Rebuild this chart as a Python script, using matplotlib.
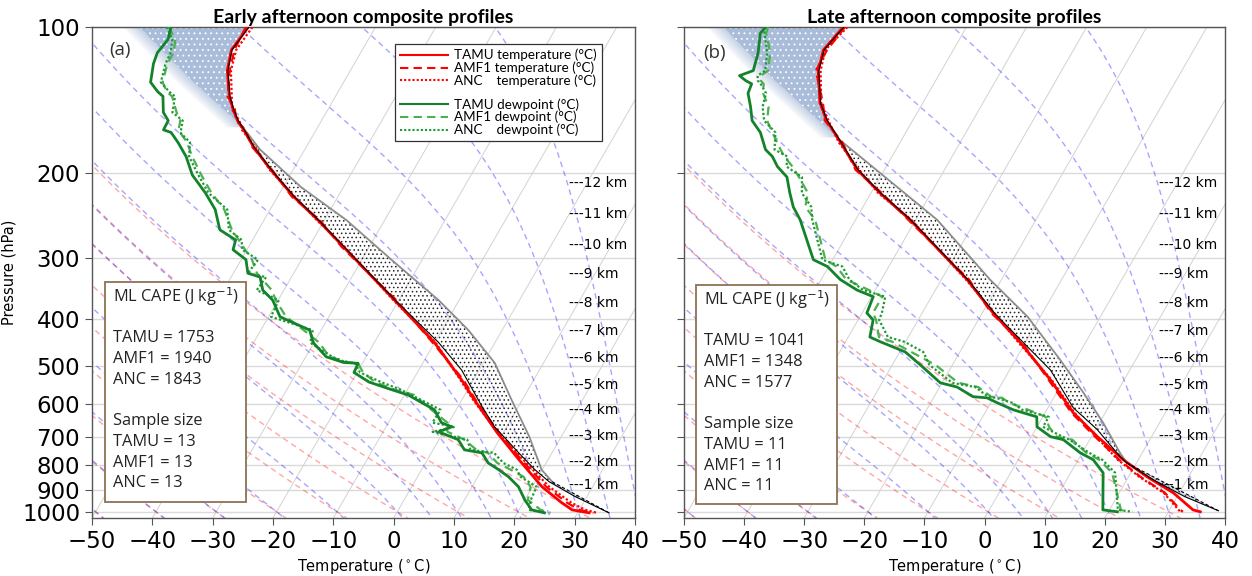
import numpy as np
import matplotlib.pyplot as plt
import matplotlib.transforms as mtransforms
from matplotlib.lines import Line2D
from matplotlib.patches import Rectangle
from matplotlib.ticker import FixedLocator, NullLocator, FormatStrFormatter

plt.rcParams['hatch.linewidth'] = 0.6

P_BOT = 1030.0
P_TOP = 100.0
SKEW = 46.4   # degC of x shift per decade of pressure

# ---------------- (a) early afternoon composites ----------------
early_p_temp = [100, 111.5, 123, 139, 148, 156, 163, 177, 197, 224, 250, 284, 366, 448,
                534, 588, 687, 781, 888, 958, 991, 1005]
early_t_tamu = [-71.1, -71.7, -70.4, -67.6, -65.7, -63.9, -62.0, -58.7, -53.7, -47.3, -41.1,
                -34.3, -20.7, -10.0, -2.0, 2.1, 9.0, 15.2, 21.6, 26.4, 28.8, 31.9]
early_t_amf1 = [-71.5, -71.2, -70.0, -67.9, -65.4, -64.2, -61.7, -58.9, -53.5, -47.6, -40.8,
                -34.6, -20.4, -10.3, -1.7, 2.3, 9.3, 15.6, 22.3, 27.3, 30.0, 32.6]
early_t_anc = [-70.4, -70.9, -69.8, -67.2, -65.9, -63.6, -62.3, -58.4, -53.9, -47.1, -41.3,
               -34.1, -20.9, -9.8, -2.2, 1.9, 9.1, 15.9, 22.8, 28.0, 31.0, 33.2]

early_p_dew = [100, 106, 113, 119, 130, 136, 139, 150, 156, 163, 165, 173, 185, 202, 220, 238,
               262, 275, 288, 302, 322, 328, 349, 366, 396, 422, 448, 479, 492, 494, 516, 540,
               560, 574, 616, 655, 668, 684, 710, 745, 756, 793, 819, 847, 888, 945, 991, 1005]
early_td_tamu = [-83.9, -83.2, -83.7, -83.3, -82.0, -79.9, -78.6, -77.0, -75.4, -75.3, -73.8,
                 -71.7, -69.0, -66.2, -62.3, -59.1, -56.4, -52.8, -52.3, -49.2, -47.6, -45.2,
                 -43.5, -40.9, -38.1, -31.9, -30.1, -26.6, -23.2, -20.7, -20.5, -17.1, -12.6,
                 -9.4, -3.6, -1.2, 0.9, -0.8, 3.2, 5.2, 8.4, 10.4, 12.8, 15.1, 17.7, 20.0, 22.1, 24.5]
early_td_amf1 = [-84.3, -82.0, -81.0, -81.0, -80.0, -78.4, -77.1, -74.8, -73.4, -72.8, -72.3,
                 -70.2, -68.0, -64.7, -61.3, -57.6, -54.4, -52.3, -50.3, -48.2, -46.1, -45.2,
                 -42.0, -40.4, -37.1, -32.9, -29.1, -26.1, -22.2, -20.7, -19.0, -16.1, -12.1,
                 -8.4, -4.1, -0.2, -0.1, 0.7, 4.2, 7.2, 9.4, 11.9, 14.8, 17.6, 19.7, 20.5, 23.6, 25.5]
early_td_anc = [-84.6, -82.5, -81.5, -81.3, -80.3, -78.0, -76.6, -75.5, -73.0, -72.4, -72.3,
                -69.7, -68.5, -65.2, -61.8, -57.1, -54.9, -51.8, -50.8, -47.2, -47.6, -44.2,
                -44.5, -39.9, -39.6, -31.4, -30.6, -25.6, -22.7, -21.2, -19.5, -15.1, -11.1,
                -8.9, -2.6, -2.7, 1.4, -1.8, 4.7, 6.2, 10.4, 12.9, 15.8, 17.1, 20.7, 21.0, 21.6, 24.5]

early_p_tv = [100, 111.5, 123, 139, 148, 156, 163, 177, 197, 224, 250, 284, 366, 448, 510,
              607, 668, 756, 819, 867, 930, 1005]
early_tv = [-71.0, -71.6, -70.3, -67.5, -65.6, -63.8, -61.9, -58.6, -53.6, -47.2, -41.0,
            -34.2, -20.6, -9.3, -2.9, 4.0, 8.0, 14.5, 18.8, 22.3, 28.0, 35.2]
early_p_parcel = [100, 128, 161, 179, 214, 250, 302, 366, 422, 493, 588, 700, 819, 867, 1005]
early_t_parcel = [-89.2, -75.8, -62.4, -57.4, -47.0, -36.4, -25.1, -13.4, -5.6, 1.9, 8.25,
                  14.7, 19.9, 22.8, 35.2]
early_p_lcl, early_p_el = 867, 161
early_cape = [1753, 1940, 1843]
early_n = [13, 13, 13]

# ---------------- (b) late afternoon composites ----------------
late_p_temp = [100, 111.5, 123, 143.5, 156, 173, 197, 220, 250, 332, 389, 448, 534, 625, 700,
               781, 847, 914, 991, 1000]
late_t_tamu = [-70.5, -71.6, -70.5, -67.1, -64.3, -59.9, -54.5, -48.5, -40.9, -25.7, -18.2,
               -10.8, -2.3, 4.7, 11.0, 17.5, 23.1, 29.0, 33.9, 35.3]
late_t_amf1 = [-70.2, -71.0, -70.9, -66.6, -64.6, -59.6, -54.8, -48.2, -41.2, -25.4, -18.5,
               -10.5, -2.6, 4.4, 10.6, 16.8, 22.0, 27.6, 31.8, 32.4]
late_t_anc = [-69.8, -71.3, -70.1, -66.9, -64.0, -60.2, -54.2, -48.8, -40.7, -25.9, -18.0,
              -11.1, -2.1, 4.9, 10.8, 16.6, 21.8, 27.4, 31.5, 32.0]

late_p_dew = [100, 103, 113, 123, 126, 129, 131, 137, 146, 156, 165, 179, 185, 194, 204, 220,
              235, 250, 302, 312, 332, 349, 360, 389, 402, 436, 446, 468, 498, 542, 553, 579,
              582, 596, 616, 637, 668, 700, 710, 756, 781, 831, 991, 1000]
late_td_tamu = [-83.4, -83.7, -82.2, -81.3, -83.1, -81.6, -80.3, -80.0, -78.3, -76.7, -74.2,
                -71.7, -69.9, -68.1, -65.5, -63.5, -61.6, -59.2, -53.2, -50.2, -46.8, -43.0,
                -39.7, -39.2, -37.5, -36.4, -34.2, -29.1, -25.3, -20.3, -17.1, -13.5, -11.1,
                -8.9, -5.6, -1.0, 0.0, 3.2, 5.6, 9.7, 12.5, 15.4, 18.9, 21.5]
late_td_amf1 = [-83.0, -82.7, -80.2, -78.8, -79.6, -79.1, -78.3, -77.5, -75.3, -74.2, -72.2,
                -69.2, -67.9, -65.6, -63.5, -60.5, -59.6, -56.7, -51.2, -48.7, -45.8, -41.0,
                -38.2, -38.2, -37.0, -34.9, -32.2, -28.1, -22.8, -17.3, -13.6, -10.5, -8.6,
                -6.9, -3.1, 0.5, 2.0, 4.2, 7.1, 10.7, 13.5, 16.9, 21.9, 23.0]
late_td_anc = [-83.6, -83.0, -80.7, -79.3, -80.1, -79.6, -78.8, -77.0, -76.3, -74.7, -71.7,
               -70.2, -67.4, -66.6, -63.0, -61.5, -58.6, -57.2, -51.7, -47.7, -45.3, -42.0,
               -37.7, -36.7, -36.5, -33.4, -30.2, -26.1, -23.8, -18.3, -14.1, -11.0, -9.6,
               -6.4, -4.1, 1.0, 1.0, 5.2, 6.6, 11.2, 14.0, 17.4, 21.4, 24.0]

late_p_tv = [100, 111.5, 123, 143.5, 156, 173, 197, 220, 250, 332, 389, 448, 510, 610, 677,
             770, 793, 859, 931, 995]
late_tv = [-70.4, -71.5, -70.4, -67.0, -64.2, -59.8, -54.4, -48.4, -40.8, -25.6, -18.0,
           -10.3, -3.2, 4.2, 10.3, 16.7, 18.4, 24.4, 31.3, 38.2]
late_p_parcel = [100, 128, 169, 250, 332, 396, 486, 568, 655, 756, 793, 995]
late_t_parcel = [-90.5, -77.2, -61.0, -36.4, -21.9, -12.1, -2.55, 4.45, 10.6, 16.3, 18.4, 38.2]
late_p_lcl, late_p_el = 793, 169
late_cape = [1041, 1348, 1577]
late_n = [11, 11, 11]

# heights of the km markers (hPa in the composite)
km_levels = [12, 11, 10, 9, 8, 7, 6, 5, 4, 3, 2, 1]
km_pres = [210, 243, 281, 323, 371, 424, 481, 547, 616, 697, 789, 880]

sites = ['TAMU', 'AMF1', 'ANC']
dry_t0 = [-50, -40, -30, -20, -10, 0, 10, 20, 30]
moist_t0 = [-50, -40, -30, -20, -10, 0, 5, 10, 15, 20, 25, 30, 35, 40]

RED = '#ff0000'
GREEN = '#13832b'
GREEN_LT = '#4caf50'
GREEN_DOT = '#1c9a30'


def skx(t, p):
    return np.asarray(t, float) + SKEW * np.log10(P_BOT / np.asarray(p, float))


def logp_interp(p_new, p, t):
    return np.interp(np.log(p_new), np.log(p), t)


def moist_adiabat(t0):
    rd, cp, lv, eps = 287.04, 1005.7, 2.501e6, 0.622

    def dtdp(t, p):
        es = 6.112 * np.exp(17.67 * (t - 273.15) / (t - 29.65))
        rs = eps * es / (p - es)
        return (rd * t + lv * rs) / (cp + lv * lv * rs * eps / (rd * t * t)) / p

    out = []
    for step, stop in ((-2.0, P_TOP - 2), (2.0, P_BOT + 2)):
        p, t = 1000.0, t0 + 273.15
        pp, tt = [p], [t]
        while (p > stop) if step < 0 else (p < stop):
            k1 = dtdp(t, p)
            k2 = dtdp(t + step * k1, p + step)
            t = t + 0.5 * step * (k1 + k2)
            p = p + step
            pp.append(p)
            tt.append(t)
        out.append((pp, tt))
    pp = np.array(out[0][0][::-1] + out[1][0][1:])
    tt = np.array(out[0][1][::-1] + out[1][1][1:]) - 273.15
    return pp, tt


plev = np.logspace(np.log10(P_TOP), np.log10(P_BOT), 300)


def background(ax):
    for t in range(-50, 41, 10):
        ax.plot(skx(np.full_like(plev, t), plev), plev, color='#d2d2d2', lw=0.7, zorder=1)
    for t0 in dry_t0:
        tk = (t0 + 273.15) * (plev / 1000.0) ** 0.2857 - 273.15
        ax.plot(skx(tk, plev), plev, color='r', ls=(0, (4, 3)), lw=1.0, alpha=0.35, zorder=1)
    for t0 in moist_t0:
        pp, tt = moist_adiabat(t0)
        ax.plot(skx(tt, pp), pp, color='b', ls=(0, (4, 3)), lw=1.0, alpha=0.35, zorder=1)


def draw_panel(ax, p_t, t_tamu, t_amf1, t_anc, p_td, td_tamu, td_amf1, td_anc,
               p_tv, t_tv, p_par, t_par, p_lcl, p_el):
    background(ax)

    # negative area above the equilibrium level
    pu = np.logspace(np.log10(P_TOP), np.log10(p_el), 80)
    env_u = logp_interp(pu, p_t, t_tamu)
    par_u = logp_interp(pu, p_par, t_par)
    ax.fill_betweenx(pu, skx(par_u, pu), skx(env_u, pu), facecolor='#a9bcd9',
                     edgecolor='white', hatch='...', lw=0, zorder=2)
    for k in range(1, 7):
        ax.fill_betweenx(pu, skx(par_u - 0.45 * k, pu), skx(par_u - 0.45 * (k - 1), pu),
                         facecolor='#a9bcd9', alpha=0.75 * (1 - k / 7.0), lw=0, zorder=2)

    # CAPE between environment and parcel
    pm = np.logspace(np.log10(p_el), np.log10(p_lcl), 150)
    ax.fill_betweenx(pm, skx(logp_interp(pm, p_tv, t_tv), pm),
                     skx(logp_interp(pm, p_par, t_par), pm),
                     facecolor='none', edgecolor='#222222', hatch='....', lw=0, zorder=2)

    # sub-cloud layer
    pl = np.logspace(np.log10(p_lcl), np.log10(p_par[-1]), 60)
    ax.fill_betweenx(pl, skx(logp_interp(pl, p_tv, t_tv), pl),
                     skx(logp_interp(pl, p_par, t_par), pl),
                     facecolor='#cddcec', edgecolor='#333333', hatch='....', lw=0, zorder=2)

    p_par = np.asarray(p_par, float)
    t_par = np.asarray(t_par, float)
    up = (p_par >= p_el) & (p_par <= p_lcl)
    lo = p_par >= p_lcl
    ax.plot(skx(t_par[up], p_par[up]), p_par[up], color='#8c8c8c', lw=1.3, zorder=3)
    ax.plot(skx(t_par[lo], p_par[lo]), p_par[lo], color='k', ls=(0, (3, 2)), lw=0.8, zorder=5)

    ax.plot(skx(t_tamu, p_t), p_t, color=RED, lw=2.0, zorder=4)
    ax.plot(skx(t_amf1, p_t), p_t, color=RED, lw=1.6, ls=(0, (4, 2.5)), zorder=4)
    ax.plot(skx(t_anc, p_t), p_t, color=RED, lw=1.6, ls=(0, (1, 1)), zorder=4)
    ax.plot(skx(t_tv, p_tv), p_tv, color='k', lw=0.8, zorder=5)

    ax.plot(skx(td_amf1, p_td), p_td, color=GREEN_LT, lw=1.6, ls=(0, (4, 2.5)), zorder=4)
    ax.plot(skx(td_anc, p_td), p_td, color=GREEN_DOT, lw=1.6, ls=(0, (1, 1)), zorder=4)
    ax.plot(skx(td_tamu, p_td), p_td, color=GREEN, lw=2.0, zorder=4)

    ax.set_yscale('log')
    ax.set_ylim(P_BOT, P_TOP)
    ax.set_xlim(-50, 40)
    ax.yaxis.set_major_locator(FixedLocator(list(range(100, 1001, 100))))
    ax.yaxis.set_minor_locator(NullLocator())
    ax.yaxis.set_major_formatter(FormatStrFormatter('%d'))
    ax.xaxis.set_major_locator(FixedLocator(list(range(-50, 41, 10))))
    ax.grid(axis='y', color='#dadada', lw=1.0, zorder=0)
    ax.set_axisbelow(True)
    ax.tick_params(labelsize=16.5, color='#555555', length=5)
    for s in ax.spines.values():
        s.set_color('#555555')
        s.set_linewidth(1.0)
    ax.set_xlabel('Temperature ($^\\circ$C)', fontsize=10.5, labelpad=3)

    tr = mtransforms.blended_transform_factory(ax.transAxes, ax.transData)
    for km, pk in zip(km_levels, km_pres):
        ax.text(0.878, pk, '---%d km' % km, transform=tr, fontsize=10, va='center',
                ha='left', zorder=6)


def cape_box(ax, x0, y0, w, h, tx, ty, cape, n):
    ax.add_patch(Rectangle((x0, y0), w, h, transform=ax.transAxes, facecolor='white',
                           edgecolor='#8c7256', lw=1.3, zorder=7))
    lines = ['ML CAPE (J kg$^{-1}$)', None] + \
            ['%s = %d' % (s, v) for s, v in zip(sites, cape)] + [None, 'Sample size'] + \
            ['%s = %d' % (s, v) for s, v in zip(sites, n)]
    step = 20.7 / 491.0
    for i, ln in enumerate(lines):
        if ln is None:
            continue
        ax.text(tx, ty - i * step, ln, transform=ax.transAxes, fontsize=11.8,
                family='Open Sans', color='#222222', va='center', ha='left', zorder=8)


fig = plt.figure(figsize=(12.52, 5.76), dpi=100)
ax_a = fig.add_axes([92 / 1252, 58 / 576, 543 / 1252, 491 / 576])
ax_b = fig.add_axes([684 / 1252, 58 / 576, 541 / 1252, 491 / 576])

draw_panel(ax_a, early_p_temp, early_t_tamu, early_t_amf1, early_t_anc,
           early_p_dew, early_td_tamu, early_td_amf1, early_td_anc,
           early_p_tv, early_tv, early_p_parcel, early_t_parcel, early_p_lcl, early_p_el)
draw_panel(ax_b, late_p_temp, late_t_tamu, late_t_amf1, late_t_anc,
           late_p_dew, late_td_tamu, late_td_amf1, late_td_anc,
           late_p_tv, late_tv, late_p_parcel, late_t_parcel, late_p_lcl, late_p_el)

ax_a.set_ylabel('Pressure (hPa)', fontsize=10.5)
ax_b.tick_params(labelleft=False)

ax_a.set_title('Early afternoon composite profiles', fontsize=14, fontweight='bold',
               family='Lato', pad=3)
ax_b.set_title('Late afternoon composite profiles', fontsize=14, fontweight='bold',
               family='Lato', pad=3)

ax_a.text(0.052, 0.953, '(a)', transform=ax_a.transAxes, fontsize=13.5, family='Open Sans',
          color='#333333', ha='center', va='center', zorder=6)
ax_b.text(0.057, 0.947, '(b)', transform=ax_b.transAxes, fontsize=13.5, family='Open Sans',
          color='#333333', ha='center', va='center', zorder=6)

cape_box(ax_a, 0.024, 0.033, 0.26, 0.448, 0.039, 0.450, early_cape, early_n)
cape_box(ax_b, 0.022, 0.029, 0.261, 0.446, 0.037, 0.444, late_cape, late_n)

handles = [Line2D([], [], color=RED, lw=1.5),
           Line2D([], [], color=RED, lw=1.5, ls=(0, (4, 2.5))),
           Line2D([], [], color=RED, lw=1.5, ls=(0, (1, 1))),
           Line2D([], [], color='none'),
           Line2D([], [], color=GREEN, lw=1.5),
           Line2D([], [], color=GREEN_LT, lw=1.5, ls=(0, (4, 2.5))),
           Line2D([], [], color=GREEN_DOT, lw=1.5, ls=(0, (1, 1)))]
labels = ['TAMU temperature (\u00b0C)', 'AMF1 temperature (\u00b0C)',
          'ANC    temperature (\u00b0C)', ' ',
          'TAMU dewpoint (\u00b0C)', 'AMF1 dewpoint (\u00b0C)', 'ANC    dewpoint (\u00b0C)']
leg = ax_a.legend(handles, labels, loc='upper left', bbox_to_anchor=(0.558, 0.965),
                  borderaxespad=0, prop={'family': 'Lato', 'size': 9.7}, handlelength=3.6,
                  handletextpad=0.45, labelspacing=0.02, borderpad=0.35, fancybox=False,
                  framealpha=1, edgecolor='#333333')
leg.get_frame().set_linewidth(0.9)
leg.get_texts()[3].set_fontsize(2)
leg.set_zorder(9)

fig.savefig('out.png', dpi=100)
